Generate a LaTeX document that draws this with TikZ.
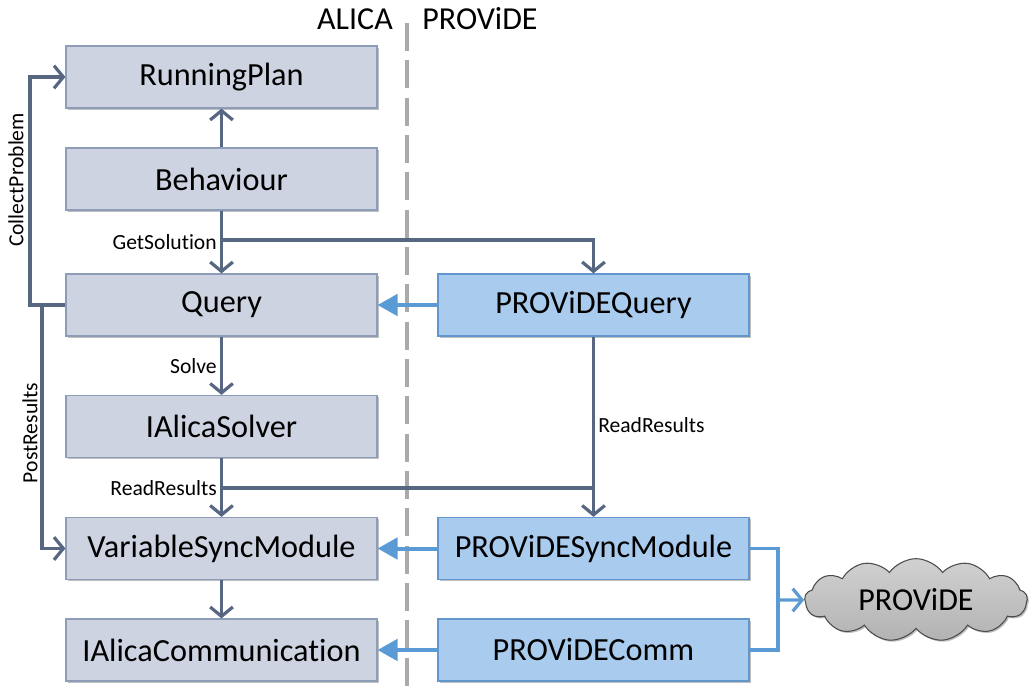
\documentclass[tikz,border=0pt]{standalone}
\usepackage{fontspec}
\setmainfont{Carlito}[Ligatures=NoCommon]
\usetikzlibrary{arrows.meta,shapes.symbols,shadows}
\definecolor{abox}{RGB}{205,211,225}
\definecolor{aborder}{RGB}{141,156,183}
\definecolor{pbox}{RGB}{169,203,238}
\definecolor{pborder}{RGB}{98,150,205}
\definecolor{darkc}{RGB}{87,103,130}
\definecolor{bluec}{RGB}{91,155,213}
\definecolor{dashc}{RGB}{170,170,170}
\tikzset{
  boxbase/.style={rectangle, minimum width=233.25pt, minimum height=46.5pt, inner sep=0pt,
    line width=0.9pt, font=\fontsize{24.2}{27}\selectfont,
    drop shadow={shadow xshift=1.2pt, shadow yshift=-1.2pt, opacity=0.25, fill=black}},
  abx/.style={boxbase, fill=abox, draw=aborder},
  pbx/.style={boxbase, fill=pbox, draw=pborder},
  dline/.style={draw=darkc, line width=2.4pt},
  darr/.style={dline, -{Straight Barb[length=7pt, width=17pt, line width=2.4pt]}},
  bline/.style={draw=bluec, line width=2.4pt},
  barr/.style={draw=bluec, line width=3pt, -{Triangle[length=15pt, width=16pt]}},
  bopen/.style={bline, -{Straight Barb[length=7pt, width=17pt, line width=2.4pt]}},
  lbl/.style={font=\fontsize{16.2}{18}\selectfont, inner sep=1.5pt},
  hdr/.style={font=\fontsize{24}{27}\selectfont, inner sep=0pt},
}
\begin{document}
\begin{tikzpicture}[x=0.75pt, y=-0.75pt]
\useasboundingbox (0,0) rectangle (1029,692);
% divider
\draw[dashc, line width=2.3pt, dash pattern=on 21pt off 7pt] (407,23) -- (407,692);
\node[hdr] (halica) at (355,19) {ALICA};
\node[hdr] (hprov) at (480,19) {PROViDE};
% ALICA boxes
\node[abx] (rp)  at (221.5,77)    {RunningPlan};
\node[abx] (beh) at (221.5,179)   {Behaviour};
\node[abx] (q)   at (221.5,305)   {Query};
\node[abx] (sol) at (221.5,426.5) {IAlicaSolver};
\node[abx] (vsm) at (221.5,548.5) {VariableSyncModule};
\node[abx] (iac) at (221.5,650)   {IAlicaCommunication};
% PROViDE boxes
\node[pbx] (pq)  at (593.5,305)   {PROViDEQuery};
\node[pbx] (psm) at (593.5,548.5) {PROViDESyncModule};
\node[pbx] (pc)  at (593.5,650)   {PROViDEComm};
% cloud
\node[cloud, cloud puffs=13, cloud puff arc=110, aspect=2.8, draw=black!70, line width=0.8pt,
  top color=black!18, bottom color=black!30, minimum width=167pt, minimum height=62pt, inner sep=0pt,
  font=\fontsize{24}{27}\selectfont,
  drop shadow={shadow xshift=1.2pt, shadow yshift=-1.2pt, opacity=0.25, fill=black}] (cl) at (916,600) {PROViDE};
% coordinates
\coordinate (gs) at (221.5,240);
\coordinate (rr) at (221.5,488);
\coordinate (rj) at (593.5,488);
\coordinate (cp) at (30,305);
\coordinate (pr) at (42,305);
\coordinate (cj) at (778,600);
% dark connectors
\draw[darr] (beh.north) -- (rp.south);
\draw[darr] (beh.south) -- (q.north);
\node[lbl, anchor=east] (lgs) at (219,242) {GetSolution};
\draw[darr] (gs) -| (pq.north);
\draw[darr] (q.south) -- (sol.north);
\node[lbl, anchor=east] (lsolve) at (219,366) {Solve};
\draw[darr] (sol.south) -- (vsm.north);
\node[lbl, anchor=east] (lrr) at (219,488) {ReadResults};
\draw[dline] (rr) -- (rj);
\draw[darr] (pq.south) -- (psm.north);
\node[lbl, anchor=west] (lrr2) at (596,425) {ReadResults};
\draw[darr] (vsm.south) -- (iac.north);
\draw[darr] (q.west) -- (cp) |- (rp.west);
\node[lbl, rotate=90] (lcp) at (16,180) {CollectProblem};
\draw[darr] (pr) |- (vsm.west);
\node[lbl, rotate=90] (lpr) at (30,433) {PostResults};
% blue connectors
\draw[barr] (pq.west) -- (q.east);
\draw[barr] (psm.west) -- (vsm.east);
\draw[barr] (pc.west) -- (iac.east);
\draw[bline] (psm.east) -| (cj);
\draw[bline] (pc.east) -| (cj);
\draw[bopen] (cj) -- (cl.west);
\end{tikzpicture}
\end{document}
